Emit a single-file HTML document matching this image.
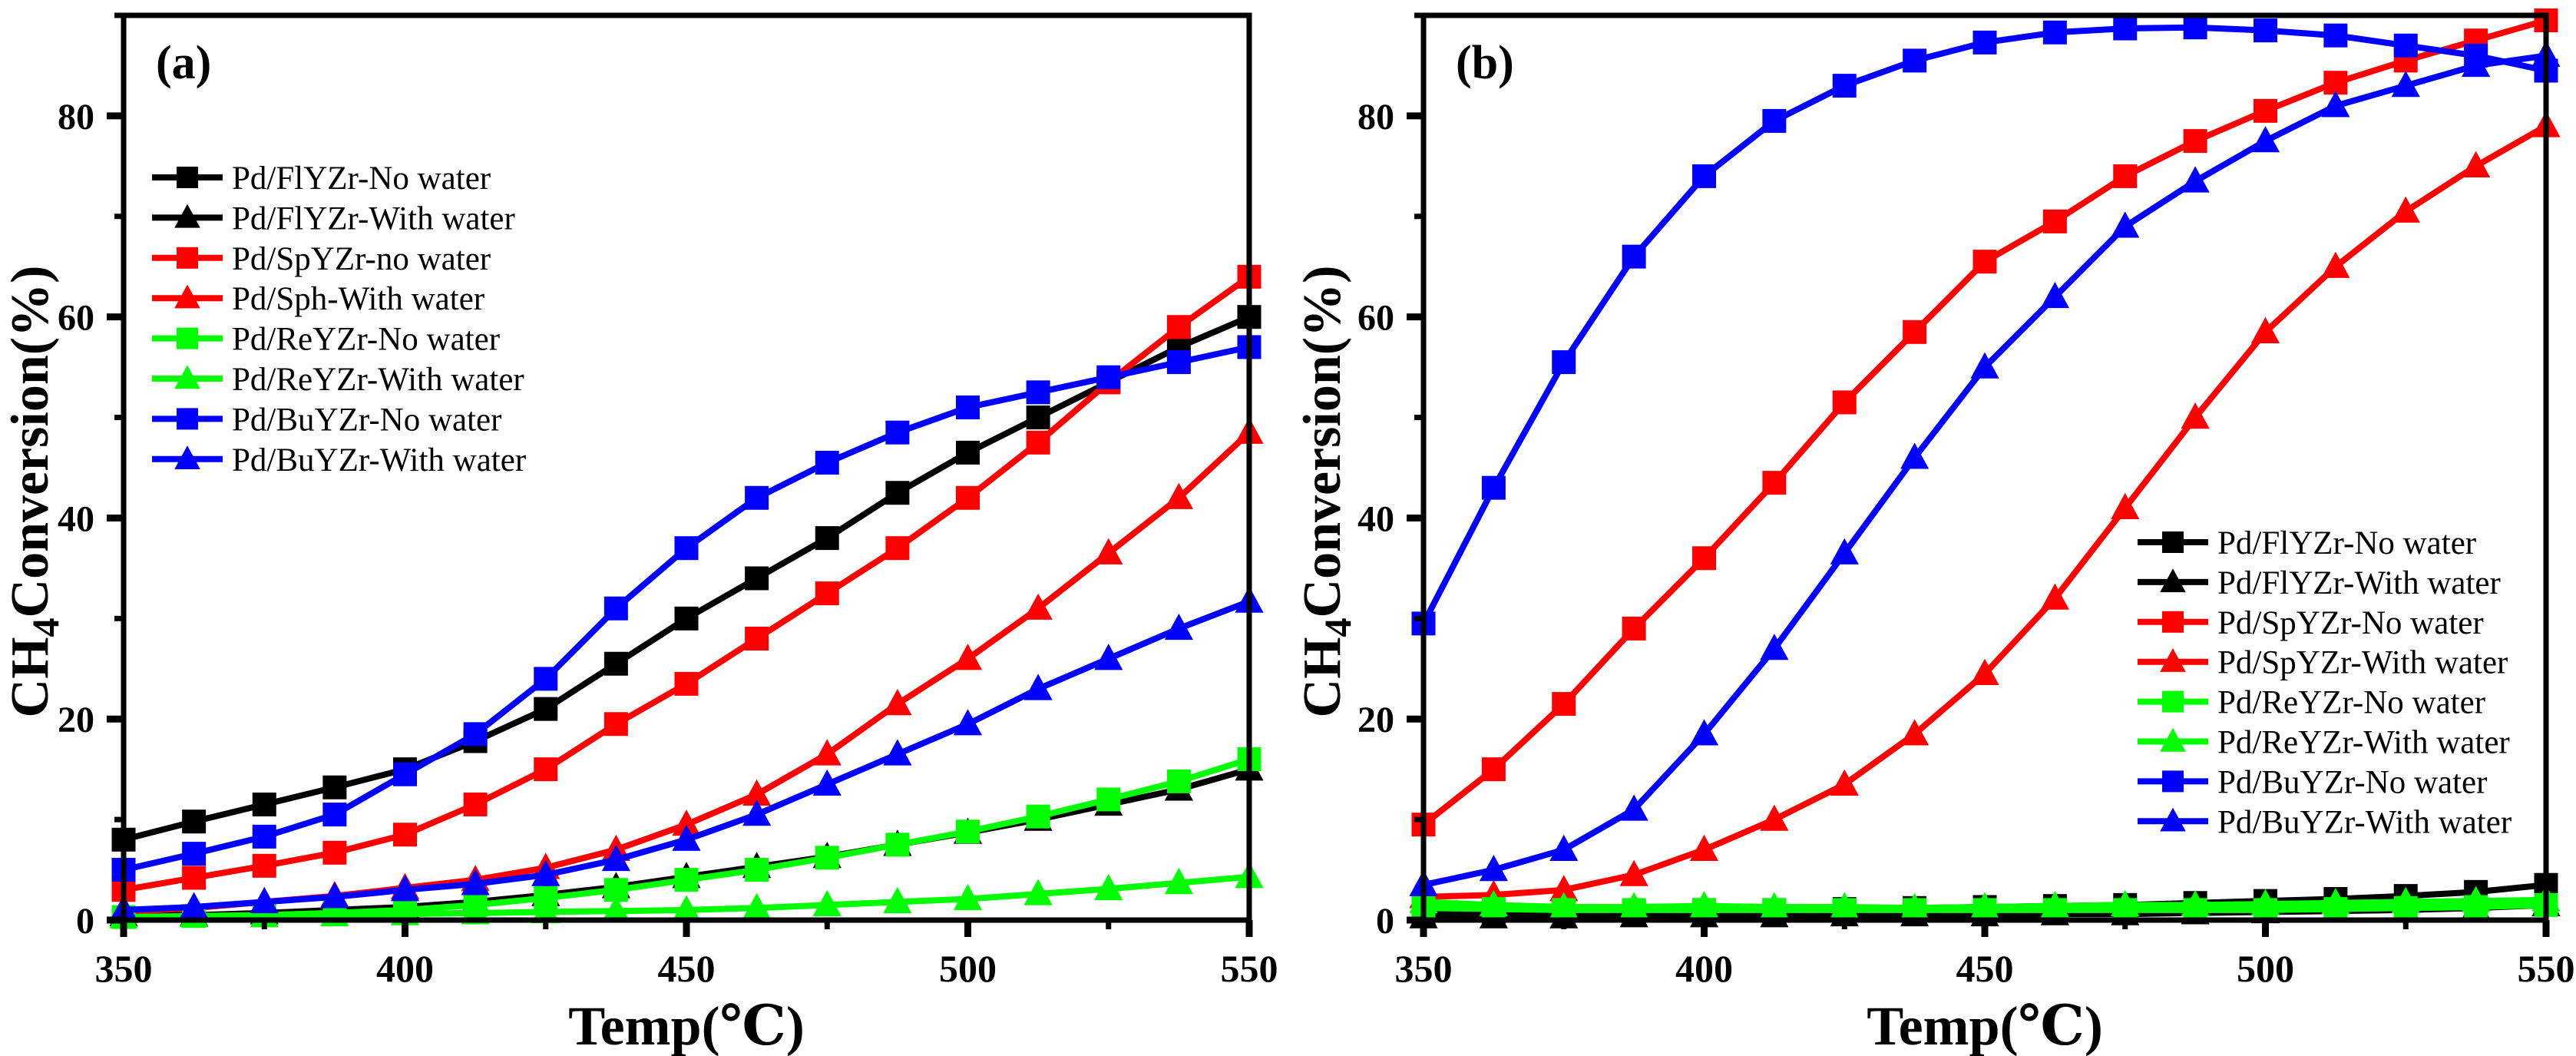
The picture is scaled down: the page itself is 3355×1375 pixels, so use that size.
<!DOCTYPE html>
<html><head><meta charset="utf-8"><style>
html,body{margin:0;padding:0;background:#fff}
svg{display:block}
text{font-family:"Liberation Serif","DejaVu Serif",serif}
</style></head><body>
<svg id="chart" width="3355" height="1375" viewBox="0 0 3355 1375" xmlns="http://www.w3.org/2000/svg"></svg>
<script>
const temps = [350,362.5,375,387.5,400,412.5,425,437.5,450,462.5,475,487.5,500,512.5,525,537.5,550];
const xTicks = [350,400,450,500,550];
const yTicks = [0,20,40,60,80];
const seriesNames = ["Pd/FlYZr-No water","Pd/FlYZr-With water","Pd/SpYZr-no water","Pd/Sph-With water","Pd/ReYZr-No water","Pd/ReYZr-With water","Pd/BuYZr-No water","Pd/BuYZr-With water"];
const seriesNamesB = ["Pd/FlYZr-No water","Pd/FlYZr-With water","Pd/SpYZr-No water","Pd/SpYZr-With water","Pd/ReYZr-No water","Pd/ReYZr-With water","Pd/BuYZr-No water","Pd/BuYZr-With water"];
const colors = ["#000","#000","#f00","#f00","#0f0","#0f0","#00f","#00f"];
const markers = ["s","t","s","t","s","t","s","t"];
// panel (a)
const aFlNo   = [8,9.8,11.5,13.2,15,17.8,21,25.5,30,34,38,42.5,46.5,50,53.5,57,60];
const aFlWith = [0.5,0.5,0.7,1,1.3,1.8,2.5,3.3,4.3,5.3,6.3,7.5,8.7,10,11.5,13,15];
const aSpNo   = [3,4.2,5.4,6.7,8.5,11.5,15,19.5,23.5,28,32.5,37,42,47.5,53.5,59,64];
const aSpWith = [0.8,1.2,1.8,2.4,3.2,4,5.2,7,9.5,12.5,16.5,21.5,26,31,36.5,42,48.5];
const aReNo   = [0.3,0.4,0.5,0.7,1,1.5,2.2,3,4,5,6.2,7.5,8.8,10.3,12,13.8,16];
const aReWith = [0.3,0.4,0.4,0.5,0.6,0.7,0.8,0.9,1,1.2,1.5,1.8,2.1,2.6,3.1,3.7,4.3];
const aBuNo   = [5,6.6,8.3,10.5,14.5,18.5,24,31,37,42,45.5,48.5,51,52.5,54,55.5,57];
const aBuWith = [1,1.3,1.8,2.3,3,3.6,4.5,6,8,10.5,13.5,16.5,19.5,23,26,29,31.7];
// panel (b)
const bFlNo   = [0.8,0.8,0.9,0.9,1,1,1.1,1.2,1.3,1.4,1.5,1.7,1.9,2.1,2.4,2.8,3.5];
const bFlWith = [0.3,0.3,0.3,0.4,0.4,0.4,0.5,0.5,0.5,0.6,0.6,0.7,0.8,0.9,1,1.2,1.5];
const bSpNo   = [9.5,15,21.5,29,36,43.5,51.5,58.5,65.5,69.5,74,77.5,80.5,83.3,85.5,87.5,89.5];
const bSpWith = [2.3,2.5,3,4.5,7,10,13.5,18.5,24.5,32,41,50,58.5,65,70.5,75,79];
const bReNo   = [1.2,1.1,1,1,1,1,1,1,1,1,1,1,1,1.1,1.2,1.3,1.5];
const bReWith = [1.8,1.5,1.3,1.3,1.4,1.3,1.3,1.2,1.3,1.4,1.5,1.5,1.6,1.7,1.8,1.9,2];
const bBuNo   = [29.5,43,55.5,66,74,79.5,83,85.5,87.3,88.3,88.7,88.8,88.5,88,87,86,84.5];
const bBuWith = [3.5,5,7,11,18.5,27,36.5,46,55,62,69,73.5,77.5,81,83,85,86];

const NS="http://www.w3.org/2000/svg";
const svg=document.getElementById('chart');
function mk(tag,attrs,parent){const e=document.createElementNS(NS,tag);for(const k in attrs)e.setAttribute(k,attrs[k]);(parent||svg).appendChild(e);return e;}

function marker(g,type,cx,cy,color,size){
  let m;
  if(type==="s"){m=mk('rect',{x:cx-size/2,y:cy-size/2,width:size,height:size,fill:color},g);}
  else{const h=size*1.05;m=mk('polygon',{points:`${cx},${cy-h*0.6} ${cx+size*0.6},${cy+h*0.45} ${cx-size*0.6},${cy+h*0.45}`,fill:color},g);}
  return m;
}

function panel(id,L,R,T,B,seriesData,names,legX,legY,legStep,label,titleX){
  const xmin=350,xmax=550,ymin=0,ymax=90;
  const X=v=>L+(v-xmin)/(xmax-xmin)*(R-L);
  const Y=v=>B-(v-ymin)/(ymax-ymin)*(B-T);
  const g=mk('g',{});
  
  
  seriesData.forEach((d,i)=>{
    const sg=mk('g',{},g);
    
    
    const pts=d.map((v,j)=>X(temps[j]).toFixed(1)+','+Y(v).toFixed(1)).join(' ');
    const pl=mk('polyline',{points:pts,fill:'none',stroke:colors[i],'stroke-width':8,'stroke-linejoin':'round'},sg);
    
    
    d.forEach((v,j)=>{
      const m=marker(sg,markers[i],X(temps[j]),Y(v),colors[i],31);
      
      
    });
  });
  const fr=mk('rect',{x:L,y:T,width:R-L,height:B-T,fill:'none',stroke:'#000','stroke-width':7},g);
  
  
  for(let v=350;v<=550;v+=25){
    const major=(v%50===0);
    const t=mk('line',{x1:X(v),x2:X(v),y1:B,y2:B+(major?22:12),stroke:'#000','stroke-width':major?9:7},g);
    
    
  }
  xTicks.forEach(v=>{
    const t=mk('text',{x:X(v),y:B+80,'font-size':50,'font-weight':'bold','text-anchor':'middle'},g);
    t.textContent=v;
    
    
  });
  for(let v=0;v<=90;v+=10){
    const major=(v%20===0);
    const t=mk('line',{x1:L,x2:L-(major?22:12),y1:Y(v),y2:Y(v),stroke:'#000','stroke-width':major?9:7},g);
    
    
  }
  yTicks.forEach(v=>{
    const t=mk('text',{x:L-38,y:Y(v)+17,'font-size':48,'font-weight':'bold','text-anchor':'end'},g);
    t.textContent=v;
    
    
  });
  const xt=mk('text',{x:(L+R)/2,y:1360,'font-size':72,'font-weight':'bold','text-anchor':'middle'},g);
  xt.textContent='Temp(℃)';
  
  
  const yt=mk('text',{transform:`translate(${titleX},640) rotate(-90)`,'font-size':70,'font-weight':'bold','text-anchor':'middle'},g);
  yt.innerHTML='CH<tspan font-size="50" dy="14">4</tspan><tspan dy="-14">Conversion(%)</tspan>';
  
  
  const pl=mk('text',{x:L+42,y:T+82,'font-size':62,'font-weight':'bold'},g);
  pl.textContent=label;
  
  
  const lg=mk('g',{},g);
  
  
  names.forEach((n,i)=>{
    const y=legY+i*legStep;
    const e=mk('g',{},lg);
    
    
    mk('line',{x1:legX,x2:legX+92,y1:y,y2:y,stroke:colors[i],'stroke-width':8},e);
    marker(e,markers[i],legX+46,y,colors[i],28);
    const t=mk('text',{x:legX+104,y:y+15,'font-size':43},e);
    t.textContent=n;
  });
}
panel('a',161,1627,20,1198,[aFlNo,aFlWith,aSpNo,aSpWith,aReNo,aReWith,aBuNo,aBuWith],seriesNames,198,231,52.4,'(a)',62);
panel('b',1854,3316,20,1198,[bFlNo,bFlWith,bSpNo,bSpWith,bReNo,bReWith,bBuNo,bBuWith],seriesNamesB,2784,706,51.9,'(b)',1745);
</script>
</body></html>
